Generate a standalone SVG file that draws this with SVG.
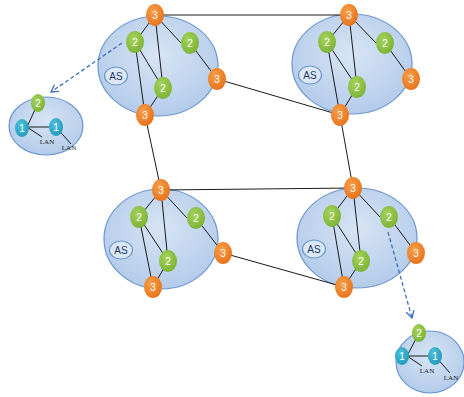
<svg xmlns="http://www.w3.org/2000/svg" width="464" height="397" viewBox="0 0 464 397">
<defs>
<radialGradient id="gAS" cx="0.5" cy="0.4" r="0.6">
<stop offset="0" stop-color="#d7e4f4"/>
<stop offset="1" stop-color="#b3cbea"/>
</radialGradient>
<radialGradient id="gO" cx="0.4" cy="0.35" r="0.7">
<stop offset="0" stop-color="#f7a04a"/>
<stop offset="1" stop-color="#e8701a"/>
</radialGradient>
<radialGradient id="gG" cx="0.4" cy="0.35" r="0.7">
<stop offset="0" stop-color="#a6d35a"/>
<stop offset="1" stop-color="#78b135"/>
</radialGradient>
<radialGradient id="gT" cx="0.4" cy="0.35" r="0.7">
<stop offset="0" stop-color="#4fc2dc"/>
<stop offset="1" stop-color="#1f98b8"/>
</radialGradient>
<marker id="arr" markerWidth="10" markerHeight="10" refX="8" refY="5" orient="auto" markerUnits="userSpaceOnUse">
<path d="M1,1 L8,5 L1,9" fill="none" stroke="#3d6fc0" stroke-width="1.3"/>
</marker>
</defs>
<style>
.as{fill:url(#gAS);stroke:#6b96cf;stroke-width:1.2}
.lab{fill:#dce8f6;stroke:#6b96cf;stroke-width:1.2}
.o{fill:url(#gO)}
.g{fill:url(#gG)}
.t{fill:url(#gT)}
.n{font-family:"Liberation Sans",Arial,sans-serif;font-size:10px;fill:#ffffff;text-anchor:middle}
.ast{font-family:"Liberation Sans",Arial,sans-serif;font-size:10px;fill:#1f3a66;text-anchor:middle}
.lan{font-family:"Liberation Serif","Times New Roman",serif;font-size:7px;fill:#222;text-anchor:middle}
.ln{stroke:#1a1a1a;stroke-width:1;fill:none}
.dash{stroke:#3d6fc0;stroke-width:1.3;stroke-dasharray:4,2.5;fill:none}
</style>

<g id="as1-cloud"><ellipse class="as" cx="158" cy="66" rx="60" ry="50"/></g>
<g id="as2-cloud"><ellipse class="as" cx="352" cy="64" rx="60" ry="50"/></g>
<g id="as3-cloud"><ellipse class="as" cx="161" cy="239" rx="57" ry="50"/></g>
<g id="as4-cloud"><ellipse class="as" cx="357" cy="238" rx="60" ry="50"/></g>
<g id="lan1-cloud"><ellipse class="as" cx="46" cy="126" rx="37" ry="29"/></g>
<g id="lan2-cloud"><ellipse class="as" cx="430" cy="362" rx="34" ry="31"/></g>

<g id="connectors">
<line class="ln" x1="155" y1="15" x2="135" y2="42"/>
<line class="ln" x1="155" y1="15" x2="181" y2="43"/>
<line class="ln" x1="155" y1="15" x2="163" y2="88"/>
<line class="ln" x1="135" y1="42" x2="163" y2="88"/>
<line class="ln" x1="135" y1="42" x2="145" y2="115"/>
<line class="ln" x1="163" y1="88" x2="145" y2="115"/>
<line class="ln" x1="190" y1="43" x2="217" y2="79"/>
<line class="ln" x1="349" y1="15" x2="327" y2="42"/>
<line class="ln" x1="349" y1="15" x2="376" y2="43"/>
<line class="ln" x1="349" y1="15" x2="357" y2="87"/>
<line class="ln" x1="327" y1="42" x2="357" y2="87"/>
<line class="ln" x1="327" y1="42" x2="340" y2="115"/>
<line class="ln" x1="357" y1="87" x2="340" y2="115"/>
<line class="ln" x1="385" y1="43" x2="411" y2="79"/>
<line class="ln" x1="161" y1="190" x2="139" y2="217"/>
<line class="ln" x1="161" y1="190" x2="187" y2="218"/>
<line class="ln" x1="161" y1="190" x2="168" y2="261"/>
<line class="ln" x1="139" y1="217" x2="168" y2="261"/>
<line class="ln" x1="139" y1="217" x2="153" y2="287"/>
<line class="ln" x1="168" y1="261" x2="153" y2="287"/>
<line class="ln" x1="196" y1="218" x2="223" y2="253"/>
<line class="ln" x1="353" y1="188" x2="332" y2="216"/>
<line class="ln" x1="353" y1="188" x2="380" y2="217"/>
<line class="ln" x1="353" y1="188" x2="361" y2="261"/>
<line class="ln" x1="332" y1="216" x2="361" y2="261"/>
<line class="ln" x1="332" y1="216" x2="344" y2="287"/>
<line class="ln" x1="361" y1="261" x2="344" y2="287"/>
<line class="ln" x1="389" y1="217" x2="416" y2="253"/>
<line class="ln" x1="155" y1="15" x2="349" y2="15"/>
<line class="ln" x1="217" y1="79" x2="340" y2="115"/>
<line class="ln" x1="145" y1="115" x2="161" y2="190"/>
<line class="ln" x1="340" y1="115" x2="353" y2="188"/>
<line class="ln" x1="161" y1="190" x2="353" y2="188"/>
<line class="ln" x1="223" y1="253" x2="344" y2="287"/>
<line class="ln" x1="38" y1="103" x2="27" y2="127"/>
<line class="ln" x1="27" y1="127" x2="56" y2="127"/>
<line class="ln" x1="27" y1="127" x2="42" y2="137"/>
<line class="ln" x1="56" y1="127" x2="71" y2="144"/>
<line class="ln" x1="419" y1="333" x2="407" y2="356"/>
<line class="ln" x1="407" y1="356" x2="435" y2="356"/>
<line class="ln" x1="407" y1="356" x2="422" y2="366"/>
<line class="ln" x1="435" y1="356" x2="450" y2="373"/>
<line class="dash" x1="122" y1="43" x2="51" y2="92" marker-end="url(#arr)"/>
<line class="dash" x1="388" y1="232" x2="412" y2="318" marker-end="url(#arr)"/>
</g>

<g id="as1">
<g id="as1-label"><ellipse class="lab" cx="116" cy="76" rx="11.5" ry="9"/><text class="ast" x="116" y="79.5">AS</text></g>
<g id="as1-r3a"><ellipse class="o" cx="155" cy="15" rx="9" ry="11"/><text class="n" x="155" y="19">3</text></g>
<g id="as1-r2a"><ellipse class="g" cx="135" cy="42" rx="9" ry="11"/><text class="n" x="135" y="46">2</text></g>
<g id="as1-r2b"><ellipse class="g" cx="190" cy="43" rx="9" ry="11"/><text class="n" x="190" y="47">2</text></g>
<g id="as1-r3b"><ellipse class="o" cx="217" cy="79" rx="9" ry="11"/><text class="n" x="217" y="83">3</text></g>
<g id="as1-r2c"><ellipse class="g" cx="163" cy="88" rx="9" ry="11"/><text class="n" x="163" y="92">2</text></g>
<g id="as1-r3c"><ellipse class="o" cx="145" cy="115" rx="9" ry="11"/><text class="n" x="145" y="119">3</text></g>
</g>

<g id="as2">
<g id="as2-label"><ellipse class="lab" cx="310" cy="75" rx="11.5" ry="9"/><text class="ast" x="310" y="78.5">AS</text></g>
<g id="as2-r3a"><ellipse class="o" cx="349" cy="15" rx="9" ry="11"/><text class="n" x="349" y="19">3</text></g>
<g id="as2-r2a"><ellipse class="g" cx="327" cy="42" rx="9" ry="11"/><text class="n" x="327" y="46">2</text></g>
<g id="as2-r2b"><ellipse class="g" cx="385" cy="43" rx="9" ry="11"/><text class="n" x="385" y="47">2</text></g>
<g id="as2-r3b"><ellipse class="o" cx="411" cy="79" rx="9" ry="11"/><text class="n" x="411" y="83">3</text></g>
<g id="as2-r2c"><ellipse class="g" cx="357" cy="87" rx="9" ry="11"/><text class="n" x="357" y="91">2</text></g>
<g id="as2-r3c"><ellipse class="o" cx="340" cy="115" rx="9" ry="11"/><text class="n" x="340" y="119">3</text></g>
</g>

<g id="as3">
<g id="as3-label"><ellipse class="lab" cx="121" cy="250" rx="11.5" ry="9"/><text class="ast" x="121" y="253.5">AS</text></g>
<g id="as3-r3a"><ellipse class="o" cx="161" cy="190" rx="9" ry="11"/><text class="n" x="161" y="194">3</text></g>
<g id="as3-r2a"><ellipse class="g" cx="139" cy="217" rx="9" ry="11"/><text class="n" x="139" y="221">2</text></g>
<g id="as3-r2b"><ellipse class="g" cx="196" cy="218" rx="9" ry="11"/><text class="n" x="196" y="222">2</text></g>
<g id="as3-r3b"><ellipse class="o" cx="223" cy="253" rx="9" ry="11"/><text class="n" x="223" y="257">3</text></g>
<g id="as3-r2c"><ellipse class="g" cx="168" cy="261" rx="9" ry="11"/><text class="n" x="168" y="265">2</text></g>
<g id="as3-r3c"><ellipse class="o" cx="153" cy="287" rx="9" ry="11"/><text class="n" x="153" y="291">3</text></g>
</g>

<g id="as4">
<g id="as4-label"><ellipse class="lab" cx="314" cy="249" rx="11.5" ry="9"/><text class="ast" x="314" y="252.5">AS</text></g>
<g id="as4-r3a"><ellipse class="o" cx="353" cy="188" rx="9" ry="11"/><text class="n" x="353" y="192">3</text></g>
<g id="as4-r2a"><ellipse class="g" cx="332" cy="216" rx="9" ry="11"/><text class="n" x="332" y="220">2</text></g>
<g id="as4-r2b"><ellipse class="g" cx="389" cy="217" rx="9" ry="11"/><text class="n" x="389" y="221">2</text></g>
<g id="as4-r3b"><ellipse class="o" cx="416" cy="253" rx="9" ry="11"/><text class="n" x="416" y="257">3</text></g>
<g id="as4-r2c"><ellipse class="g" cx="361" cy="261" rx="9" ry="11"/><text class="n" x="361" y="265">2</text></g>
<g id="as4-r3c"><ellipse class="o" cx="344" cy="287" rx="9" ry="11"/><text class="n" x="344" y="291">3</text></g>
</g>

<g id="lan1">
<g id="lan1-r2"><ellipse class="g" cx="38" cy="103" rx="7" ry="9"/><text class="n" x="38" y="106.5">2</text></g>
<g id="lan1-r1a"><ellipse class="t" cx="22" cy="128" rx="7" ry="9"/><text class="n" x="22" y="131.5">1</text></g>
<g id="lan1-r1b"><ellipse class="t" cx="56" cy="127" rx="7" ry="9"/><text class="n" x="56" y="130.5">1</text></g>
<text class="lan" x="47" y="144">LAN</text>
<text class="lan" x="69" y="150">LAN</text>
</g>

<g id="lan2">
<g id="lan2-r2"><ellipse class="g" cx="419" cy="333" rx="7" ry="9"/><text class="n" x="419" y="336.5">2</text></g>
<g id="lan2-r1a"><ellipse class="t" cx="402" cy="356" rx="7" ry="9"/><text class="n" x="402" y="359.5">1</text></g>
<g id="lan2-r1b"><ellipse class="t" cx="435" cy="356" rx="7" ry="9"/><text class="n" x="435" y="359.5">1</text></g>
<text class="lan" x="427" y="373">LAN</text>
<text class="lan" x="451" y="380">LAN</text>
</g>
</svg>
